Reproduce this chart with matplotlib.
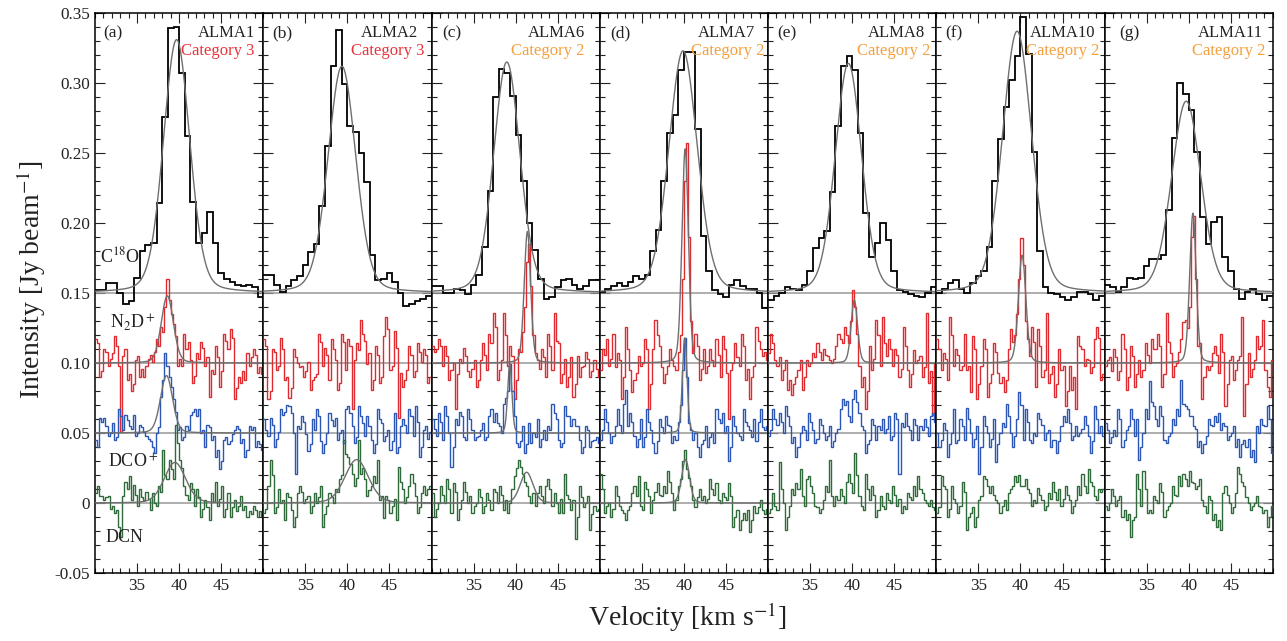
import numpy as np
import matplotlib
matplotlib.use('Agg')
import matplotlib.pyplot as plt
from matplotlib.ticker import MultipleLocator, FuncFormatter

plt.rcParams['font.family'] = ['Liberation Serif', 'DejaVu Serif']
plt.rcParams['mathtext.fontset'] = 'stix'

# channel edges (km/s): C18O is coarse, the deuterated lines are fine
c18o_edges = np.linspace(30, 50, 31)
fine_edges = np.linspace(30, 50, 81)

panel_tags = ['(a)', '(b)', '(c)', '(d)', '(e)', '(f)', '(g)']
sources = ['ALMA1', 'ALMA2', 'ALMA6', 'ALMA7', 'ALMA8', 'ALMA10', 'ALMA11']
categories = ['Category 3', 'Category 3', 'Category 2', 'Category 2',
              'Category 2', 'Category 2', 'Category 2']

# intensities in mJy/beam (before the display offsets)
c18o = [
    [2, 2, 7, 7, 0, -8, -6, 11, 30, 34, 36, 64, 126, 189, 190, 157, 112, 65, 36, 43,
     58, 36, 14, 10, 8, 6, 5, 6, 4, -3],
    [13, 13, 6, 1, 5, 9, 12, 20, 29, 35, 62, 105, 162, 188, 149, 119, 115, 100, 79, 27,
     9, 10, 14, 8, 0, -9, -8, -6, -4, -2],
    [5, 5, 0, 0, 3, 2, -1, 6, 13, 33, 73, 140, 160, 157, 141, 113, 80, 50, 31, 10,
     -4, -3, 4, 9, 10, 6, 3, 5, 9, 9],
    [1, 3, 5, 7, 5, 8, 12, 10, 13, 30, 45, 80, 114, 127, 159, 172, 172, 117, 41, 16,
     2, -1, -3, 6, 9, 5, 3, 3, 0, -11],
    [-5, -2, 0, 4, 3, 2, 6, 16, 32, 39, 44, 72, 119, 162, 169, 159, 114, 57, 26, 36,
     50, 38, 16, 2, 1, -1, -2, -3, 0, 4],
    [0, 3, 7, 9, 3, 0, 7, 12, 16, 33, 80, 110, 133, 152, 169, 197, 171, 101, 30, 4,
     0, -1, -3, -5, -3, 1, 1, -1, -5, -2],
    [6, 4, 1, 4, 11, 10, 11, 19, 24, 24, 27, 59, 111, 150, 142, 131, 101, 54, 35, 51,
     54, 26, 16, 3, -4, 1, 3, -1, -5, -2],
]

n2dp = [
    [17, 14, -10, -6, 10, 8, -2, 3, 7, 19, 12, -2, -49, 5, 10, -12, -8, -20, -15, 2,
     5, -10, -4, -10, -2, 3, 6, 1, 8, 17, 12, 26, 22, 40, 60, 45, 35, 28, 19, -2,
     3, -2, 21, 10, 15, 2, -14, -9, 7, 3, 15, 11, -2, 4, -24, -5, -8, 12, 4, -17,
     -6, 21, 16, 10, 24, 18, -26, -18, -10, -14, -6, -12, 7, -2, 4, 10, 6, -7, -3, -8],
    [17, 12, -26, -20, 10, 8, -5, -2, 18, 10, -12, -10, -25, -18, 10, 4, 0, -3, -2, -10,
     -6, 1, -19, -12, -10, -8, 21, 15, -2, 11, 6, -12, 17, 10, 2, -19, -14, 21, 15, -5,
     17, 12, -33, 2, 14, 9, 31, 21, 16, -1, 7, -19, -12, 12, 6, -14, -10, 19, 33, 24,
     -5, -2, 23, 11, -39, -7, -17, -12, -5, 12, 6, -10, -6, 14, 8, 1, 10, 6, -14, -10],
    [12, 8, 10, 17, 12, -2, 12, 5, -12, -5, 0, -33, -8, 3, 0, 11, 5, -6, -10, -4,
     2, -17, -12, 2, 14, 6, -5, 21, 14, 36, 26, -12, -5, 2, 36, 20, -2, 12, 5, -26,
     -12, 10, 8, 22, 40, 72, 85, 55, 20, 7, 2, -4, 10, 4, -10, 21, 12, -5, 36, 16,
     14, -14, -8, 3, -17, -10, 4, -24, -15, 5, -10, -3, -2, 8, 3, -10, -6, 2, -4, -10],
    [-5, 10, 6, 17, -2, 3, 21, -3, 7, 2, -26, -10, 26, 10, -5, -21, -12, -7, 5, -2,
     0, 17, 10, -33, -15, 10, 31, 20, 12, -3, -14, -8, -2, 10, 2, -2, -5, 8, 20, 60,
     130, 157, 90, 30, 7, 21, 12, -12, -4, 10, -7, -2, 10, 2, -2, 17, 6, -10, 19, 10,
     -7, -40, -5, 0, 14, 4, -2, 21, 12, -12, -4, -26, -10, -2, 26, 16, 10, 5, 8, 2],
    [7, 21, 14, 2, -2, 4, -12, -5, 2, -19, -12, -23, -15, -10, -5, 2, -19, -10, 2, -2,
     0, 7, 4, 14, 8, 2, 10, 6, 5, 2, 0, 3, 12, 21, 17, 14, 26, 20, 14, 30,
     52, 40, 21, -2, -17, -10, -33, -20, 12, -5, 3, 31, 20, -2, 33, 14, 5, 17, 10, -2,
     10, 6, -10, -4, 26, 12, -5, -17, -8, 9, 0, 2, 5, -10, -3, 36, -14, -6, -37, 0],
    [17, 10, -5, 7, 3, -12, 33, 20, -2, 10, 6, -5, -2, 21, -5, -2, -21, 19, 10, -26,
     -15, -2, 17, 10, -24, -14, -8, 14, 8, -7, -14, -10, -21, -12, 10, 24, 15, 20, 35, 60,
     89, 70, 30, 17, 5, 26, 15, -17, 24, 12, -10, -5, 36, -14, -8, -2, -24, -15, 10, -5,
     -2, -31, -20, -2, -19, -10, -33, 19, 12, 10, -2, 3, 2, -7, -3, 17, 26, 18, -12, -8],
    [-2, 2, 4, -6, 10, 4, -12, -6, 21, 10, -19, -10, 12, 5, -17, -8, 2, -10, -5, 14,
     6, 0, 17, 10, 10, 21, 12, -17, -8, 36, 15, 7, -10, -2, 0, 8, 17, 29, 31, 25,
     40, 90, 105, 60, 12, 14, -26, -10, -2, -5, -2, 7, 12, 6, -7, 21, 8, -31, -15, 2,
     5, -12, -5, 2, 5, 33, -38, -15, 7, -10, -4, 2, 19, 10, 12, 31, -5, -17, -24, 2],
]

dcop = [
    [-5, -10, 11, 8, 11, 5, -2, 0, 7, -5, -3, 17, 12, 2, 13, 9, 5, 3, 13, -2,
     0, 6, 4, 1, -2, -4, -6, -10, -14, 0, 4, 26, 38, 57, 48, 40, 33, 24, 15, 2,
     4, -5, -3, 5, 2, 13, 15, 17, 12, 17, 0, 2, -10, 6, 4, -5, -2, -17, -12, -26,
     -20, -5, -3, -8, -6, -1, 2, 5, 3, -7, -4, -17, -12, 5, 2, 4, -10, -6, -8, -12],
    [10, 2, -2, 11, 6, -10, -4, 1, 17, 13, 15, 20, 19, 14, 0, -29, 5, 3, 12, 8,
     -1, -13, -8, 10, 2, 17, 12, -6, -14, -8, 0, 14, 9, 5, 11, -5, 0, 2, -7, 17,
     19, 14, 5, -7, -3, 19, 12, 7, -2, 12, 5, -5, -14, -8, 17, 10, 7, -6, -2, 2,
     -12, -6, 14, -14, -10, 5, 10, 6, 0, 17, 12, -2, 19, 8, -17, -10, 2, 5, -4, 1],
    [10, 3, -2, 14, 8, -5, 19, 12, 0, -24, -10, 10, 6, 15, 12, -3, -5, 17, 10, 2,
     -5, -3, -2, 2, 7, -5, -3, 12, 17, 8, 14, 7, 5, 0, 21, 25, 30, 49, 30, 12,
     -7, -10, -6, 5, -14, -8, 7, -7, 0, -3, 10, -10, -4, 2, -5, 5, 2, 21, 14, 10,
     -5, -10, -7, 19, 12, 12, 5, 10, 5, 5, -5, -14, -10, 5, 2, -10, -6, -5, -3, -7],
    [-5, 2, 17, 8, 0, -7, -2, 5, 17, 6, 0, 21, 31, 5, 14, 8, -2, -10, -4, 10,
     -10, -3, 17, 8, 2, -7, -14, -6, 10, 4, 0, 12, 6, 5, -7, -2, -5, 8, 20, 45,
     68, 40, 7, 2, -5, 0, -10, -17, -8, -5, 5, -10, -3, 0, -7, 17, 10, 7, 14, 0,
     5, -20, -10, 12, 5, 0, -2, -5, 17, 8, 5, 2, -3, 10, -6, 8, 17, 4, 2, 5],
    [-2, 2, 17, 10, 6, 14, 8, 0, 19, 12, 5, -7, -3, -17, -10, 0, 5, 2, -5, 14,
     8, 2, -7, -4, 10, 6, 0, -5, -2, 5, -10, -6, 0, 3, 17, 24, 20, 23, 12, 8,
     24, 31, 22, 14, 5, 2, -14, -8, -5, 10, 6, -5, 5, 2, 10, 0, 3, 12, -5, -2,
     14, 10, -29, 7, 4, 14, 5, 2, -5, 10, 6, -5, 5, 2, 10, 4, -2, 12, 14, 8],
    [0, -10, -5, 7, 2, -17, -8, 0, 17, -7, -5, 10, 5, -5, 18, 10, 0, -10, -4, 5,
     -29, -10, 12, 5, 0, -10, -4, 10, -21, -8, 0, 7, 4, 21, 12, 0, -10, -2, 10, 29,
     20, -5, 17, 8, -5, -7, 0, -2, 14, 10, 6, -5, 0, 2, -10, -5, -5, -14, -6, 5,
     12, 8, 17, 7, -5, -2, 5, -2, 0, 3, 12, 6, -2, -14, -6, 19, 10, 0, 5, -2],
    [7, 2, -7, -3, 2, -2, 17, 10, -10, -5, 2, 5, 17, 10, -2, 10, -19, -10, 0, 17,
     10, 37, 22, 19, 10, 5, 19, 12, -5, -7, -2, 0, 10, 6, 17, 12, 38, 21, 19, 17,
     12, 12, 5, 3, -10, -6, -14, -8, -2, 10, 6, 5, 12, 8, 14, 2, 7, 5, -5, -2,
     0, 5, -10, -4, -17, -8, -5, -10, -4, -17, -12, -21, 5, 0, 10, 6, 5, 19, 10, -14],
]

dcn = [
    [7, 12, 5, 5, 2, 4, 5, -4, -2, -7, -5, -17, -24, 5, 15, 10, 19, 2, 13, 6,
     -2, 10, 4, 2, 8, 3, -5, 7, 0, -2, 12, 8, 38, 20, 17, 31, 24, 17, 56, 43,
     31, 25, 12, 6, 2, 14, 10, -2, 10, 4, -10, -4, 2, -3, -12, 7, 1, 15, -2, 3,
     12, -10, -4, 7, -10, -3, 2, -6, -2, 5, -5, -2, -10, -6, -8, -2, -5, -10, -6, -9],
    [-7, -4, 12, 31, 20, -7, -3, 10, 0, 2, -12, 7, 4, -5, -17, -10, 7, 12, 8, 0,
     3, 5, -7, -2, 7, 0, 4, 12, -17, -8, -2, 7, 4, 0, 10, 8, 17, 20, 45, 35,
     33, 28, 21, 12, 18, 45, 21, 25, 17, 5, 9, 12, 19, 14, 31, 2, 5, -11, 5, 2,
     -7, -2, 3, -12, 26, 15, 10, 0, 4, 12, 21, 14, 5, -7, -3, 7, 12, 6, 10, 12],
    [7, -10, -4, 0, 12, 6, 0, 17, 10, -7, 14, 8, -12, -4, 2, 15, 8, 0, 5, -7,
     -2, 0, 10, 4, -7, -2, 7, 2, -5, 10, 8, 0, 12, 6, -5, 2, -7, 0, 10, 19,
     25, 31, 26, 21, 15, 12, 5, 0, 7, -2, 7, 12, 5, 0, 12, 17, 10, -2, 7, 0,
     -7, 3, -7, 21, 6, 3, -5, 2, -26, -10, 12, 4, -3, 0, 5, -19, -8, -2, -6, -4],
    [21, 10, -7, -2, 0, -10, -4, 12, 5, -2, -5, -7, -12, -5, -2, 7, 12, 5, 19, -2,
     -5, 15, 10, 5, -7, 2, 8, 14, 6, 5, 12, 7, 23, 15, 7, -5, 2, 12, 17, 30,
     38, 24, 18, 12, 2, -3, 4, 10, 2, 5, 0, 3, 17, 10, 6, 14, 2, 0, 7, 4,
     2, 14, 5, -17, -10, -5, -19, -12, -7, -12, -5, -21, -12, -2, -7, -3, 2, -5, -8, -4],
    [-7, -4, 7, -2, -5, 29, 10, 0, -19, -10, -2, 10, 6, 14, 10, 24, 5, -2, 17, 19,
     12, 7, -2, -3, -7, -4, 2, 12, 8, 31, 5, -2, 5, 2, 10, 5, 0, 15, 21, 14,
     7, 36, 20, 5, -2, -5, 21, 10, 2, 12, 6, -10, -5, 5, -2, -4, 7, 2, 0, 12,
     6, -2, 3, -7, -2, -4, 7, 4, 2, 12, 5, 19, 10, 7, 2, 0, -2, 2, -3, -5],
    [-7, -3, 19, 12, 10, -10, -4, 12, 3, 0, -7, -2, 15, 8, -19, -10, -7, -3, -17, -10,
     2, 5, 19, 17, 12, 7, 12, 6, 2, 0, -7, -2, 2, -5, 7, 10, 12, 19, 15, 20,
     12, 12, 17, 10, 7, -2, 2, 0, 11, 6, 2, -5, -2, 7, 3, 15, 8, 2, 10, -2,
     3, 12, 6, 2, -7, -2, 2, 12, 6, 21, 12, 7, 24, 15, 12, 5, 2, 10, 8, 10],
    [-2, -5, 0, 10, 5, -2, 2, 5, -10, -5, -12, -8, -24, -12, -10, 21, 10, -2, 23, 10,
     -7, -5, -7, 5, 2, 0, 14, 8, -10, -5, -2, 0, 12, 6, 5, 19, 12, 21, 17, 12,
     23, 15, 14, 10, 12, 17, 2, -2, -7, 5, 2, -12, -8, -17, -12, -19, 7, 12, 6, 0,
     -7, -3, 7, 26, 21, 15, 12, 4, 0, -5, -2, 0, 5, -2, -3, -7, -5, -17, -10, -2],
]

# line fits: (peak mJy/beam, centre km/s, FWHM km/s), None = no fit shown
c18o_fit = [(181, 39.7, 3.7), (162, 39.35, 3.9), (165, 38.95, 3.7), (173, 39.9, 4.0),
            (164, 39.55, 3.7), (187, 39.6, 4.1), (137, 39.7, 4.1)]
n2dp_fit = [(48, 38.6, 1.7), None, (94, 41.4, 0.9), (153, 40.15, 0.9),
            (45, 40.25, 0.9), (77, 40.2, 1.05), (107, 40.5, 0.9)]
dcop_fit = [(41, 38.5, 1.7), None, (49, 39.3, 0.6), (68, 40.1, 0.65), None, None, None]
dcn_fit = [(29, 39.5, 3.0), (31, 41.1, 3.3), (22, 41.3, 1.8), (31, 40.2, 1.1), None, None, None]

for arr in (n2dp, dcop, dcn):
    for s in arr:
        assert len(s) == 80
for s in c18o:
    assert len(s) == 30

# display offsets (Jy/beam) and colours
lines = [
    (c18o, c18o_fit, c18o_edges, 0.15, 'black', 1.3),
    (n2dp, n2dp_fit, fine_edges, 0.10, '#df2b30', 1.0),
    (dcop, dcop_fit, fine_edges, 0.05, '#2b56b4', 1.0),
    (dcn, dcn_fit, fine_edges, 0.0, '#2f6a3a', 1.0),
]
cat_colors = {'Category 3': '#e8333b', 'Category 2': '#f5a03e'}
tag_x = [0.048, 0.052, 0.065, 0.064, 0.052, 0.055, 0.085]
src_x = [0.95, 0.917, 0.911, 0.925, 0.933, 0.945, 0.943]
cat_x = [0.95, 0.957, 0.911, 0.98, 0.967, 0.97, 0.957]


def profile(v, amp, v0, fwhm, eta=0.2):
    # pseudo-Voigt line shape
    g = np.exp(-4 * np.log(2) * ((v - v0) / fwhm) ** 2)
    lor = 1.0 / (1.0 + 4 * ((v - v0) / fwhm) ** 2)
    return amp * ((1 - eta) * g + eta * lor)


fig, axes = plt.subplots(1, 7, sharey=True, figsize=(12.87, 6.41), dpi=100)
fig.subplots_adjust(left=0.0738, right=0.989, top=0.9797, bottom=0.106, wspace=0)

vv = np.linspace(30, 50, 1001)

for k, ax in enumerate(axes):
    for data, fits, edges, off, col, lw in lines:
        ax.axhline(off, color='#999999', lw=1.1, zorder=2)
        ax.stairs(np.array(data[k]) / 1000.0 + off, edges, color=col, lw=lw,
                  baseline=None, zorder=3)
        if fits[k] is not None:
            amp, v0, fw = fits[k]
            ax.plot(vv, off + profile(vv, amp / 1000.0, v0, fw),
                    color='#6f6f6f', lw=1.0, zorder=4)

    ax.set_xlim(30, 50)
    ax.set_ylim(-0.05, 0.35)
    ax.set_xticks([35, 40, 45])
    ax.xaxis.set_minor_locator(MultipleLocator(1))
    ax.yaxis.set_major_locator(MultipleLocator(0.05))
    ax.yaxis.set_minor_locator(MultipleLocator(0.01))
    ax.tick_params(which='both', direction='in', top=True, right=True,
                   labelsize=12.3, width=0.8, colors='#222222')
    ax.tick_params(which='major', length=7)
    ax.tick_params(which='minor', length=3.5)
    for sp in ax.spines.values():
        sp.set_linewidth(1.1)

    ax.text(tag_x[k], 0.964, panel_tags[k], transform=ax.transAxes,
            ha='left', va='center', fontsize=12.5, color='#222222')
    ax.text(src_x[k], 0.964, sources[k], transform=ax.transAxes,
            ha='right', va='center', fontsize=12, color='#222222')
    ax.text(cat_x[k], 0.932, categories[k], transform=ax.transAxes,
            ha='right', va='center', fontsize=12, color=cat_colors[categories[k]])

axes[0].yaxis.set_major_formatter(
    FuncFormatter(lambda y, pos: '0' if abs(y) < 1e-9 else '%.2f' % y))

ax0 = axes[0]
ax0.text(30.6, 0.176, 'C$^{18}$O', fontsize=13, va='center', color='#222222')
ax0.text(31.8, 0.129, 'N$_2$D$^+$', fontsize=13, va='center', color='#222222')
ax0.text(31.5, 0.0295, 'DCO$^+$', fontsize=13, va='center', color='#222222')
ax0.text(31.2, -0.0245, 'DCN', fontsize=13, va='center', color='#222222')

fig.text(0.024, 0.563, 'Intensity [Jy beam$^{-1}$]', rotation=90,
         ha='center', va='center', fontsize=20, color='#222222')
fig.text(0.534, 0.037, 'Velocity [km s$^{-1}$]', ha='center', va='center',
         fontsize=20, color='#222222')

fig.savefig('out.png', dpi=100)
